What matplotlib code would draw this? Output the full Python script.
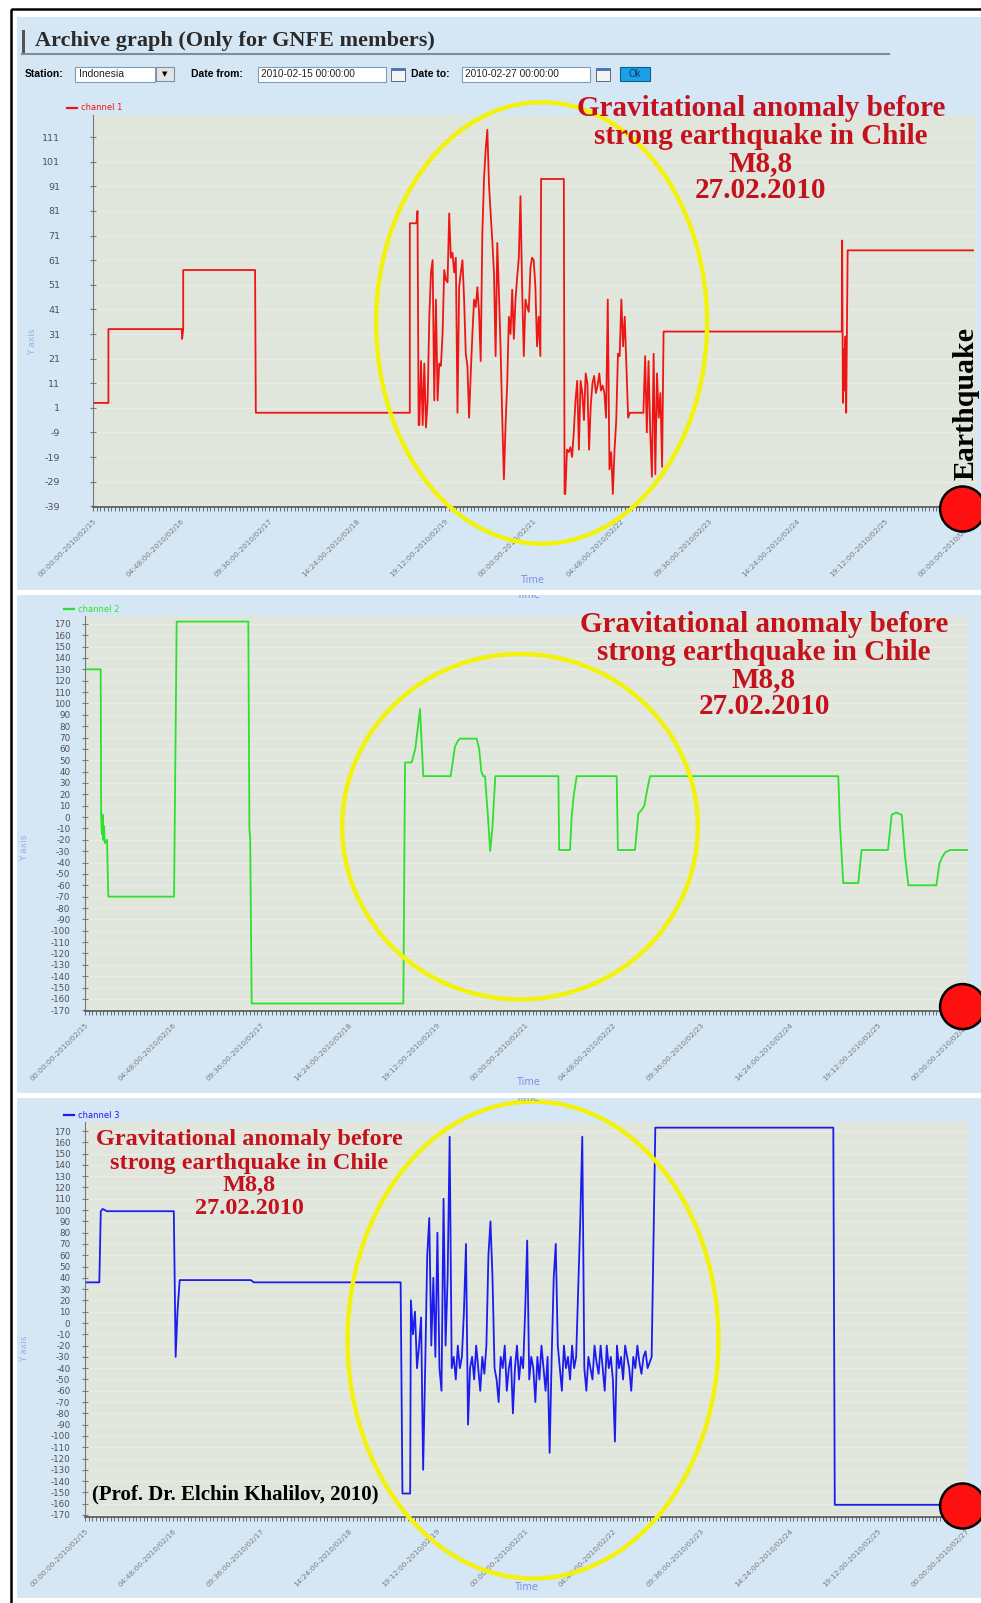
import numpy as np
import matplotlib
matplotlib.use('Agg')
import matplotlib.pyplot as plt
from matplotlib.patches import Ellipse, Circle, Rectangle
from matplotlib.ticker import MultipleLocator
from matplotlib.transforms import Bbox, TransformedBbox

plt.rcParams['axes.unicode_minus'] = False

W, H = 981, 1603
BLUE_BG = '#d5e7f5'
PLOT_BG = '#e1e6dc'
SERIF = 'Liberation Serif'
SANS = 'Liberation Sans'

# time axis in days after 2010-02-15 00:00:00
tick_days = [0.0, 1.2, 2.4, 3.6, 4.8, 6.0, 7.2, 8.4, 9.6, 10.8, 12.0]
tick_labels = ['00:00:00-2010/02/15', '04:48:00-2010/02/16', '09:36:00-2010/02/17',
               '14:24:00-2010/02/18', '19:12:00-2010/02/19', '00:00:00-2010/02/21',
               '04:48:00-2010/02/22', '09:36:00-2010/02/23', '14:24:00-2010/02/24',
               '19:12:00-2010/02/25', '00:00:00-2010/02/27']

# ---- channel 1 (red)
ch1_start_days = [0.0, 0.21, 0.21, 1.21, 1.215, 1.23, 1.23, 2.21, 2.22, 4.32, 4.32, 4.41, 4.425, 4.44]
ch1_start_vals = [3, 3, 33, 33, 29, 33, 57, 57, -1, -1, 76, 76, 81, -6]
ch1_burst1 = [-6, 20, -6, 19, -7, 4, 38, 56, 61, 4, 45, 4, 19, 18, 31, 57, 53, 52, 80, 62,
              64, 56, 62, -1, 50, 56, 61, 45, 23, 18, -3, 15, 31, 45, 42, 50, 40, 20, 72, 94,
              106, 114, 92, 80, 69, 56, 22, 68, 48, 25, -3, -28, -6, 11, 38, 31, 49, 29, 45, 54,
              62, 87, 50, 22, 45, 42, 40, 58, 62, 61, 50, 26, 38, 22]
ch1_burst1_span = (4.45, 6.10)
ch1_mid_days = [6.11, 6.42, 6.43]
ch1_mid_vals = [94, 94, -34]
ch1_burst2 = [-34, -16, -17, -15, -19, -9, 4, 12, -16, 12, 7, -4, 15, 11, -16, 2, 11, 14, 7, 10,
              15, 8, 10, 7, -3, 45, -24, -17, -34, -16, -4, 23, 22, 45, 26, 38, 18, -3, -1, -1,
              -1, -1, -1, -1, -1, -1, -1, 22, -9, 20, -9, -27, 23, -26, 15, -3, 7, -23]
ch1_burst2_span = (6.44, 7.76)
ch1_end_days = [7.78, 10.21, 10.215, 10.225, 10.235, 10.245, 10.26, 10.27, 10.29, 12.0]
ch1_end_vals = [32, 32, 69, 3, 25, 8, 30, -1, 65, 65]

# ---- channel 2 (green)
ch2_days = [0.0, 0.214, 0.22, 0.23, 0.24, 0.25, 0.26, 0.27, 0.30, 0.317, 1.213, 1.249, 2.225,
            2.24, 2.25, 2.271, 4.337, 4.36, 4.45, 4.50, 4.564, 4.609, 4.982, 5.04, 5.08, 5.109,
            5.336, 5.37, 5.40, 5.426, 5.45, 5.49, 5.52, 5.55, 5.59, 6.449, 6.46, 6.608, 6.63,
            6.66, 6.699, 7.244, 7.26, 7.493, 7.539, 7.58, 7.62, 7.66, 7.698, 10.263, 10.284,
            10.30, 10.33, 10.535, 10.58, 10.94, 10.99, 11.05, 11.127, 11.17, 11.217, 11.6,
            11.64, 11.68, 11.72, 11.785, 12.03]
ch2_vals = [130, 130, 0, -15, 2, -20, -8, -23, -20, -70, -70, 172, 172,
            -11, -18, -164, -164, 48, 48, 60, 95, 36, 36, 62, 67, 69,
            69, 60, 40, 36, 36, 0, -30, -10, 36, 36, -29, -29, 0,
            20, 36, 36, -29, -29, 3, 6, 10, 24, 36, 36, -5,
            -23, -58, -58, -29, -29, 2, 4, 2, -33, -60, -60,
            -41, -35, -31, -29, -29]

# ---- channel 3 (blue)
ch3_start_days = [0.0, 0.195, 0.215, 0.24, 0.30, 1.21, 1.235, 1.26, 1.29, 2.26, 2.30, 4.30, 4.325, 4.43]
ch3_start_vals = [36, 36, 99, 101, 99, 99, -30, 10, 38, 38, 36, 36, -151, -151]
ch3_burst = [20, -10, 10, -40, -20, 5, -130, -40, 60, 93, -20, 40, -30, 80, -40, -60, 110, -20,
             40, 165, -40, -30, -50, -20, -40, -30, 10, 70, -90, -40, -30, -50, -20, -40, -60,
             -30, -45, -20, 60, 90, 40, -40, -50, -70, -30, -40, -20, -60, -40, -30, -80, -40,
             -20, -50, -30, -40, 10, 73, -50, -30, -40, -70, -30, -50, -20, -40, -60, -30, -115,
             -30, 40, 70, -20, -40, -60, -20, -40, -30, -50, -20, -40, -30, 30, 90, 165, -40,
             -60, -30, -40, -50, -20, -35, -45, -20, -40, -60, -20, -40, -30, -50, -105, -20,
             -40, -30, -50, -20, -30, -40, -60, -30, -40, -20, -35, -45, -30, -25, -40, -35, -30]
ch3_burst_span = (4.44, 7.72)
ch3_end_days = [7.77, 10.195, 10.215, 12.03]
ch3_end_vals = [173, 173, -161, -161]

ch1_yticks = list(range(-39, 112, 10))
ch23_yticks = list(range(-170, 171, 10))

note_lines = ['Gravitational anomaly before', 'strong earthquake in Chile', 'M8,8', '27.02.2010']


def burst(span, vals):
    return np.linspace(span[0], span[1], len(vals)), np.array(vals, dtype=float)


def join(*pieces):
    days = np.concatenate([np.asarray(p[0], dtype=float) for p in pieces])
    vals = np.concatenate([np.asarray(p[1], dtype=float) for p in pieces])
    return days, vals


ch1_d, ch1_v = join((ch1_start_days, ch1_start_vals), burst(ch1_burst1_span, ch1_burst1),
                    (ch1_mid_days, ch1_mid_vals), burst(ch1_burst2_span, ch1_burst2),
                    (ch1_end_days, ch1_end_vals))
ch3_d, ch3_v = join((ch3_start_days, ch3_start_vals), burst(ch3_burst_span, ch3_burst),
                    (ch3_end_days, ch3_end_vals))

fig = plt.figure(figsize=(W / 100, H / 100), dpi=100)
fig.patch.set_facecolor('white')


def px_axes(left, top, right, bottom, z):
    return fig.add_axes([left / W, 1 - bottom / H, (right - left) / W, (bottom - top) / H], zorder=z)


# background layer: frame and light blue panels
bg = px_axes(0, 0, W, H, 0)
bg.set_xlim(0, W)
bg.set_ylim(H, 0)
bg.axis('off')
for top, bottom in [(17, 590), (595, 1093), (1098, 1598)]:
    bg.add_patch(Rectangle((17, top), W - 17, bottom - top, facecolor=BLUE_BG, edgecolor='none'))
bg.add_patch(Rectangle((11, 9), W + 20, H + 20, fill=False, edgecolor='black', lw=1.8))


def channel_axes(rect, days, vals, color, xmax, ylim, yticks, ypad, ylabsize):
    ax = px_axes(*rect, 1)
    ax.set_facecolor(PLOT_BG)
    ax.plot(days, vals, color=color, lw=1.3)
    ax.set_xlim(0, xmax)
    ax.set_ylim(*ylim)
    ax.set_yticks(yticks)
    ax.set_xticks(tick_days)
    ax.set_xticklabels(tick_labels, rotation=45, ha='right', va='top',
                       rotation_mode='anchor', fontsize=5.4, color='#7a7a7a',
                       family='DejaVu Sans')
    ax.xaxis.set_minor_locator(MultipleLocator(0.05))
    ax.tick_params(axis='x', which='major', length=3, width=0.6, color='#555', pad=5)
    ax.tick_params(axis='x', which='minor', length=3, width=0.6, color='#555')
    ax.tick_params(axis='y', direction='inout', length=5, width=0.8, color='#777',
                   labelsize=ylabsize, labelcolor='#505050', pad=ypad)
    for lab in ax.get_yticklabels():
        lab.set_family('DejaVu Sans')
    for s in ['top', 'right']:
        ax.spines[s].set_visible(False)
    ax.spines['left'].set_color('#777')
    ax.spines['bottom'].set_color('#555')
    ax.spines['bottom'].set_linewidth(1.2)
    ax.grid(axis='y', color='#eceee8', lw=0.6)
    ax.set_axisbelow(True)
    return ax


channel_axes((93, 115, 976, 507), ch1_d, ch1_v, '#ee1515', 12.04, (-39.3, 120),
             ch1_yticks, 21, 6.8)
channel_axes((85, 616, 968, 1011), ch2_days, ch2_vals, '#2ee02e', 12.03, (-170.6, 176.9),
             ch23_yticks, 8, 6.3)
channel_axes((85, 1122, 968, 1517), ch3_d, ch3_v, '#1c1cf0', 12.03, (-171.8, 178),
             ch23_yticks, 8, 6.3)

# overlay layer: header, controls, annotations
ov = px_axes(0, 0, W, H, 5)
ov.set_xlim(0, W)
ov.set_ylim(H, 0)
ov.axis('off')

# header
ov.add_patch(Rectangle((22, 30), 3, 24, facecolor='#555', edgecolor='none'))
ov.plot([22, 889], [53.5, 53.5], color='#7f8c99', lw=1.5)
ov.text(35, 41, 'Archive graph (Only for GNFE members)', ha='left', va='center',
        fontsize=16, fontweight='bold', family=SERIF, color='#2b2b2b')

# controls row
cy = 74
ov.text(25, cy, 'Station:', ha='left', va='center', fontsize=7.5, fontweight='bold', family=SANS)
ov.add_patch(Rectangle((75, 66.5), 80, 15, facecolor='white', edgecolor='#7f9db9', lw=0.8))
ov.text(79, cy, 'Indonesia', ha='left', va='center', fontsize=7.5, family=SANS, color='#222')
ov.add_patch(Rectangle((156, 67), 18, 14, facecolor='#e4e4e4', edgecolor='#7f8f9f', lw=0.8))
ov.text(165, cy, '\u25bc', ha='center', va='center', fontsize=5, family='DejaVu Sans')
ov.text(191, cy, 'Date from:', ha='left', va='center', fontsize=7.5, fontweight='bold', family=SANS)
ov.add_patch(Rectangle((258, 66.5), 128, 15, facecolor='white', edgecolor='#7f9db9', lw=0.8))
ov.text(261, cy, '2010-02-15 00:00:00', ha='left', va='center', fontsize=7.3, family=SANS, color='#222')
ov.text(411, cy, 'Date to:', ha='left', va='center', fontsize=7.5, fontweight='bold', family=SANS)
ov.add_patch(Rectangle((462, 66.5), 128, 15, facecolor='white', edgecolor='#7f9db9', lw=0.8))
ov.text(465, cy, '2010-02-27 00:00:00', ha='left', va='center', fontsize=7.3, family=SANS, color='#222')
for ix in (391, 596):
    ov.add_patch(Rectangle((ix, 67.5), 14, 13, facecolor='#f4f4f4', edgecolor='#667', lw=0.7))
    ov.add_patch(Rectangle((ix, 67.5), 14, 3.5, facecolor='#4a78b8', edgecolor='none'))
ov.add_patch(Rectangle((620, 67), 30, 14, facecolor='#1aa0e6', edgecolor='#0b5f8f', lw=0.8))
ov.text(635, cy, 'Ok', ha='center', va='center', fontsize=7, family=SANS, color='#0b3d6b')

# legends, axis titles
for (lx, ly, col, name) in [(67, 108, '#ee1515', 'channel 1'), (64, 609, '#2ee02e', 'channel 2'),
                            (64, 1115, '#1c1cf0', 'channel 3')]:
    ov.plot([lx, lx + 10], [ly, ly], color=col, lw=1.6)
    ov.text(lx + 14, ly, name, ha='left', va='center', fontsize=6, family='DejaVu Sans', color=col)

for (yx, yy) in [(33, 342), (25, 848), (25, 1349)]:
    ov.text(yx, yy, 'Y axis', rotation=90, ha='center', va='center', fontsize=6.5,
            family='DejaVu Sans', color='#9aaee8')

for (tx, ty) in [(532, 580), (528, 1082), (526, 1587)]:
    ov.text(tx, ty, 'Time', ha='center', va='center', fontsize=7, family='DejaVu Sans', color='#7d8ee0')
# cut-off copies of the "Time" label at the top of the lower panels
for (tx, ty, clip_top) in [(528, 595, 595), (527, 1098, 1098)]:
    t = ov.text(tx, ty, 'Time', ha='center', va='center', fontsize=7, family='DejaVu Sans',
                color='#7d8ee0')
    t.set_clip_box(TransformedBbox(Bbox([[0, clip_top], [W, clip_top + 30]]), ov.transData))
    t.set_clip_on(True)

# yellow ellipses around the anomalies
for (ex, ey, ew, eh) in [(541.6, 323, 331, 441.5), (520, 826.7, 355.6, 345.4), (533, 1340, 371, 477)]:
    ov.add_patch(Ellipse((ex, ey), ew, eh, fill=False, edgecolor='#f2f20c', lw=3.2))

# annotation texts
for (cx, ys, size) in [(761, [108, 136, 163.5, 190], 21), (764, [624, 652, 679.5, 706], 21),
                       (249, [1139.5, 1163, 1185.5, 1208], 17.5)]:
    for line, yy in zip(note_lines, ys):
        ov.text(cx, yy, line, ha='center', va='center', fontsize=size, fontweight='bold',
                family=SERIF, color='#c4121c')

ov.text(966, 404, 'Earthquake', rotation=90, ha='center', va='center', fontsize=21.5,
        fontweight='bold', family=SERIF, color='black')
ov.text(92, 1494, '(Prof. Dr. Elchin Khalilov, 2010)', ha='left', va='center', fontsize=15,
        fontweight='bold', family=SERIF, color='black')

# earthquake markers
for cyy in (509, 1006.6, 1506):
    ov.add_patch(Circle((962.6, cyy), 22.5, facecolor='#ff1010', edgecolor='black', lw=1.8))

fig.savefig('out.png', dpi=100, facecolor='white')
